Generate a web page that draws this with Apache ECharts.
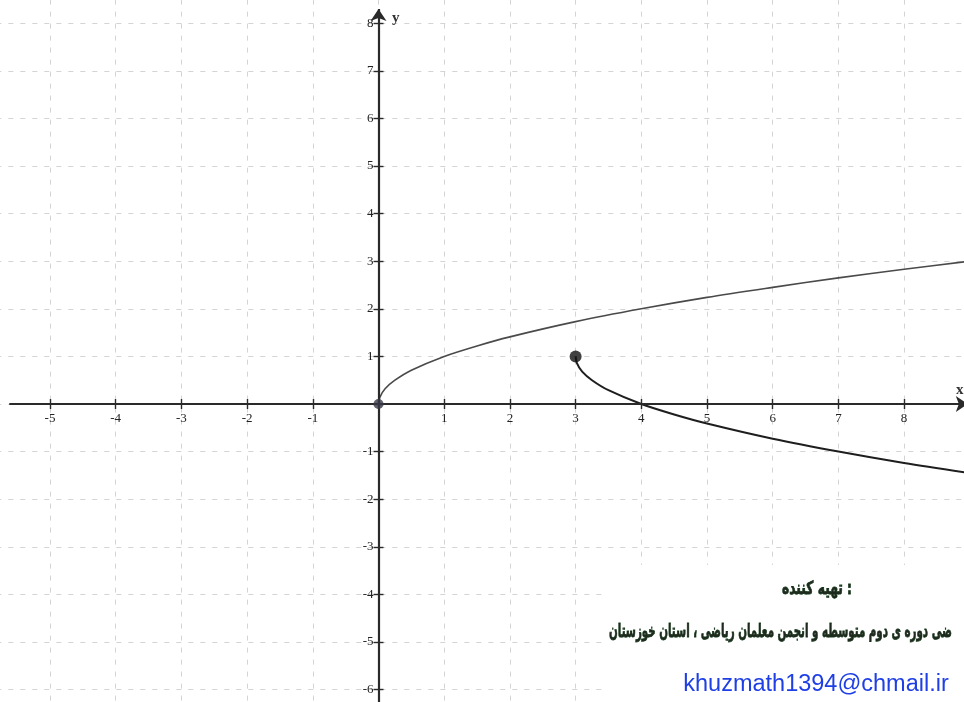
<!DOCTYPE html>
<html>
<head>
<meta charset="utf-8">
<script src="https://cdn.jsdelivr.net/npm/echarts@6/dist/echarts.min.js"></script>
<style>
  html, body { margin: 0; padding: 0; background: #fff; }
  #chart { width: 964px; height: 702px; }
</style>
</head>
<body>
<div id="chart"></div>
<script>
// curva superior y = raiz de x
const curva1X = [0, 0.02, 0.1, 0.25, 0.5, 1, 1.5, 2, 3, 4, 5, 6, 7, 8, 9];
const curva1Y = [0, 0.14, 0.32, 0.5, 0.71, 1, 1.22, 1.41, 1.73, 2, 2.24, 2.45, 2.65, 2.83, 3];

// curva inferior que sale del punto (3, 1)
const curva2X = [3, 3.02, 3.1, 3.25, 3.5, 4, 4.5, 5, 6, 7, 8, 9];
const curva2Y = [1, 0.86, 0.68, 0.5, 0.29, 0, -0.22, -0.41, -0.73, -1, -1.24, -1.45];

// puntos marcados
const puntoOrigen = [[0, 0]];
const puntoCerrado = [[3, 1]];

// ejes dibujados con flecha
const ejeX = [[-5.62, 0], [8.97, 0]];
const ejeY = [[0, -6.5], [0, 8.3]];

const xMin = -6, xMax = 9;
const yMin = -7, yMax = 9;

const myChart = echarts.init(document.getElementById('chart'));

const toPairs = (xs, ys) => xs.map((x, i) => [x, ys[i]]);

const fuenteEje = 'Liberation Serif';
const colorTick = '#2a2a2a';

// la misma rejilla dos veces: una para las marcas de abajo/izquierda y otra para arriba/derecha
const rejilla = {
    left: -15.7,
    right: -5.8,
    top: -24.4,
    bottom: -35.2,
    containLabel: false,
    outerBoundsMode: 'none'
};

// desplazamiento de los ejes de abajo/izquierda hasta el cero
const desplX = -(702 + 35.2 - 404);
const desplY = -(378.5 + 15.7);

const tick = { show: true, inside: false, length: 5, lineStyle: { color: colorTick, width: 1.4 } };
const lineaRejilla = { show: true, lineStyle: { color: '#d4d4d4', type: [5, 7], width: 1 } };
const lineaOculta = { show: true, lineStyle: { color: 'rgba(0,0,0,0)' } };

let option = {
    animation: false,
    backgroundColor: '#ffffff',
    grid: [Object.assign({}, rejilla), Object.assign({}, rejilla)],
    xAxis: [
        {
            gridIndex: 0,
            type: 'value',
            position: 'bottom',
            offset: desplX,
            min: xMin,
            max: xMax,
            interval: 1,
            axisLine: Object.assign({ onZero: false }, lineaOculta),
            axisTick: tick,
            axisLabel: {
                margin: 8,
                fontFamily: fuenteEje,
                fontSize: 13,
                color: '#222',
                formatter: v => (v === 0 || v <= -6 || v >= 9) ? '' : String(v)
            },
            splitLine: lineaRejilla
        },
        {
            gridIndex: 1,
            type: 'value',
            position: 'top',
            min: xMin,
            max: xMax,
            interval: 1,
            axisLine: Object.assign({ onZero: true }, lineaOculta),
            axisTick: tick,
            axisLabel: { show: false },
            splitLine: { show: false }
        }
    ],
    yAxis: [
        {
            gridIndex: 0,
            type: 'value',
            position: 'left',
            offset: desplY,
            min: yMin,
            max: yMax,
            interval: 1,
            axisLine: Object.assign({ onZero: false }, lineaOculta),
            axisTick: tick,
            axisLabel: {
                margin: 5,
                fontFamily: fuenteEje,
                fontSize: 13,
                color: '#222',
                formatter: v => (v === 0 || v <= -7 || v >= 9) ? '' : String(v)
            },
            splitLine: lineaRejilla
        },
        {
            gridIndex: 1,
            type: 'value',
            position: 'right',
            min: yMin,
            max: yMax,
            interval: 1,
            axisLine: Object.assign({ onZero: true }, lineaOculta),
            axisTick: tick,
            axisLabel: { show: false },
            splitLine: { show: false }
        }
    ],
    graphic: [
        {
            type: 'rect',
            left: 603,
            top: 565,
            shape: { width: 361, height: 137 },
            style: { fill: '#ffffff' },
            z: 100
        },
        {
            type: 'text',
            x: 817,
            y: 589,
            scaleX: 0.68,
            style: {
                text: 'تهیه کننده :',
                font: 'bold 18px "DejaVu Sans"',
                fill: '#1d2a1d',
                stroke: '#0b3a12',
                lineWidth: 0.8,
                align: 'center',
                verticalAlign: 'middle'
            },
            z: 101
        },
        {
            type: 'text',
            x: 952,
            y: 632,
            scaleX: 0.54,
            style: {
                text: 'ضی دوره ی دوم متوسطه و انجمن معلمان ریاضی ، استان خوزستان',
                font: 'bold 19px "DejaVu Sans"',
                fill: '#1d2a1d',
                stroke: '#0b3a12',
                lineWidth: 0.8,
                align: 'right',
                verticalAlign: 'middle'
            },
            z: 101
        },
        {
            type: 'text',
            x: 816,
            y: 685,
            style: {
                text: 'khuzmath1394@chmail.ir',
                font: '23.5px "Liberation Sans"',
                fill: '#1f3fe6',
                align: 'center',
                verticalAlign: 'middle'
            },
            z: 101
        },
        {
            type: 'text',
            x: 392,
            y: 18,
            style: { text: 'y', font: 'bold 15px "Liberation Serif"', fill: '#333', verticalAlign: 'middle' },
            z: 50
        },
        {
            type: 'text',
            x: 956,
            y: 390,
            style: { text: 'x', font: 'bold 15px "Liberation Serif"', fill: '#333', verticalAlign: 'middle' },
            z: 50
        }
    ],
    series: [
        {
            name: 'ejes',
            type: 'line',
            xAxisIndex: 0,
            yAxisIndex: 0,
            data: [],
            silent: true,
            markLine: {
                silent: true,
                symbol: ['none', 'arrow'],
                symbolSize: [12, 12],
                label: { show: false },
                lineStyle: { color: '#2a2a2a', width: 2.2, type: 'solid' },
                data: [
                    [{ coord: ejeX[0] }, { coord: ejeX[1] }],
                    [{ coord: ejeY[0] }, { coord: ejeY[1] }]
                ]
            },
            z: 3
        },
        {
            name: 'raiz',
            type: 'line',
            xAxisIndex: 0,
            yAxisIndex: 0,
            data: toPairs(curva1X, curva1Y),
            smooth: 0.3,
            showSymbol: false,
            lineStyle: { color: '#4a4a4a', width: 1.6 },
            z: 4
        },
        {
            name: 'rama',
            type: 'line',
            xAxisIndex: 0,
            yAxisIndex: 0,
            data: toPairs(curva2X, curva2Y),
            smooth: 0.3,
            showSymbol: false,
            lineStyle: { color: '#1e1e1e', width: 2 },
            z: 4
        },
        {
            name: 'origen',
            type: 'scatter',
            xAxisIndex: 0,
            yAxisIndex: 0,
            data: puntoOrigen,
            symbolSize: 10,
            itemStyle: { color: '#3a3a48' },
            z: 6
        },
        {
            name: 'cerrado',
            type: 'scatter',
            xAxisIndex: 0,
            yAxisIndex: 0,
            data: puntoCerrado,
            symbolSize: 12,
            itemStyle: { color: '#111' },
            z: 6
        }
    ]
};

myChart.setOption(option);
</script>
</body>
</html>
